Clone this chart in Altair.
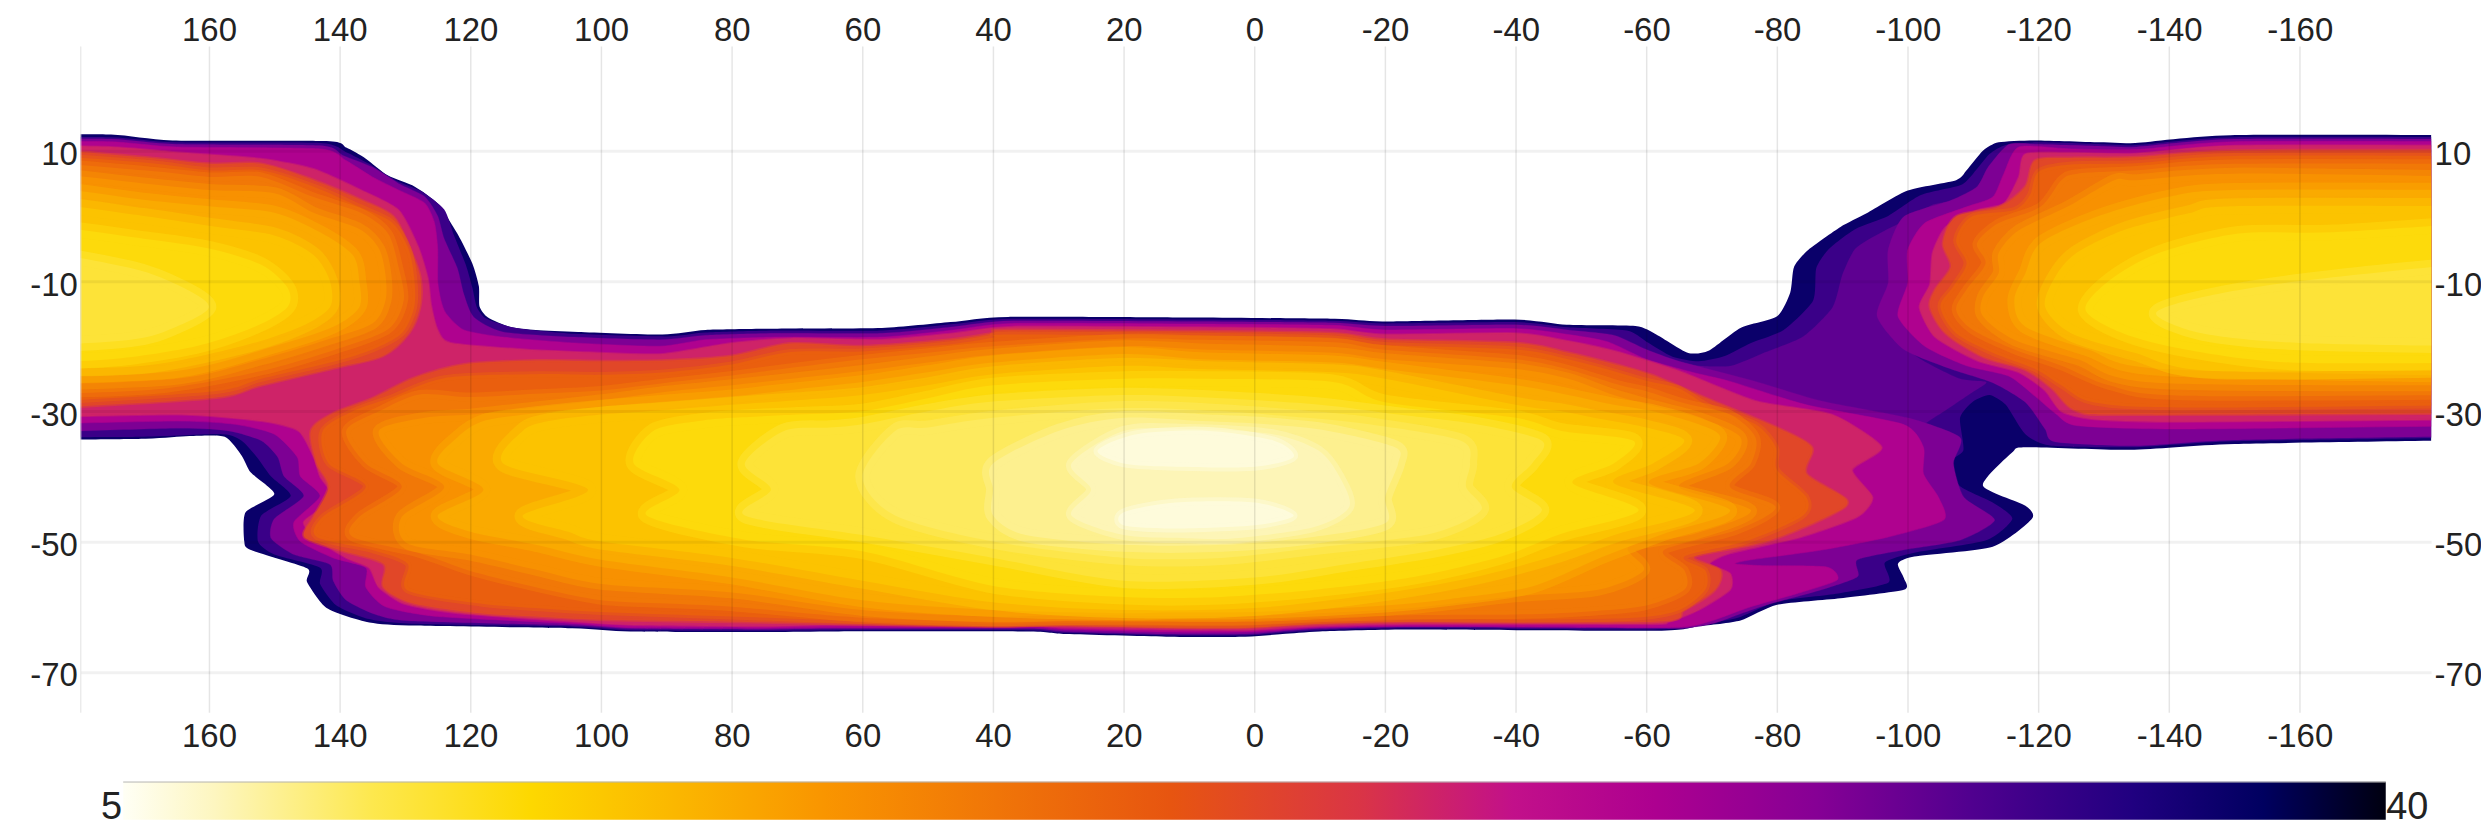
import altair as alt
import pandas as pd

lon_ticks = [160, 140, 120, 100, 80, 60, 40, 20, 0, -20, -40, -60, -80, -100, -120, -140, -160]
lat_ticks = [10, -10, -30, -50, -70]
colorbar_low = ["5"]
colorbar_high = ["40"]
scale_values = [5, 6.4, 8.85, 11.3, 15.85, 21.2, 24.1, 26.5, 28.7, 31.2, 33.6, 36.1, 38.1, 40]
scale_colors = ["#fffff5", "#fdf6c0", "#fde84e", "#fdd800", "#f99500", "#e75510", "#da3545",
                "#c2108a", "#ad0090", "#860095", "#50008f", "#200080", "#000060", "#000010"]

# iso-value outlines: (longitude, latitude) in drawing order
v375 = [(190,12.5),(175,12.5),(165.6,11.6),(142,11.5),(139,10.5),(136,8.8),(132.6,6.2),(128.5,4.5),(125,1.9),(122,-2.7),(119.7,-7.3),(118.7,-10.8),(118.6,-13.9),(117.3,-15.6),(114,-17),(110,-17.5),(103.5,-17.8),(90.6,-18.2),(84,-17.5),(73,-17.3),(57,-17.2),(46.5,-16.3),(37.7,-15.5),(8.6,-15.6),(-12.3,-15.8),(-19.6,-16.2),(-39.8,-15.9),(-47.8,-16.7),(-58.3,-16.9),(-61.5,-18.2),(-66.3,-21),(-69.5,-20.7),(-74.4,-17.2),(-80,-15.4),(-82,-11.8),(-82.6,-7.8),(-84.8,-5.2),(-89.7,-1.7),(-93.7,.4),(-100,3.9),(-107.4,5.5),(-109,7),(-111.5,10),(-113.9,11.3),(-119.5,11.6),(-130,11.3),(-134.8,11.2),(-149.4,12.4),(-190,12.4),
(-190,-34.4),(-150,-35),(-134,-35.9),(-118,-35.5),(-116,-36.3),(-111.5,-41.4),(-118,-44.5),(-119,-46.5),(-113,-50.8),(-101,-52.3),(-98.5,-53.4),(-99.4,-55.6),(-99.4,-57.4),(-89.7,-58.7),(-80,-59.7),(-74.4,-62.1),(-68,-63),(-61.5,-63.7),(-23.6,-63.5),(-10,-63.8),(-4.3,-64.2),(1.4,-64.6),(13.5,-64.6),(28.8,-64.2),(35,-63.8),(65,-63.8),(75.4,-63.9),(95.5,-63.8),(104.4,-63.3),(129.4,-62.9),(136,-62.3),(142,-60.2),(145,-56.2),(145,-54.1),(153.6,-51.3),(154.6,-50),(154.4,-45.5),(150,-42.7),(153.6,-39.4),(155,-36.8),(157.6,-33.9),(163,-33.8),(169.7,-34.2),(190,-34.4)]
v348 = [(190,12.1),(175,12.1),(165,11.3),(143,11.2),(139,9.8),(135.5,8),(131.5,5.5),(127.5,3.8),(124,1),(122.5,-3),(120.7,-7.5),(119.7,-11),(119,-14),(117.5,-15.8),(113,-17.2),(104,-18.1),(90,-18.5),(84,-17.9),(73,-17.6),(57,-17.6),(46,-16.6),(37,-15.8),(8.6,-15.9),(-12,-16.1),(-20,-16.5),(-40,-16.3),(-48,-17.1),(-57,-17.6),(-60,-19.3),(-64,-21.6),(-68,-22.3),(-72,-21.5),(-76,-19.5),(-81,-17.5),(-85.5,-13),(-86,-8),(-88,-5),(-92,-2),(-97,0),(-102,3.2),(-108,4.7),(-110,6.5),(-112.5,9.5),(-115,10.9),(-120,11.3),(-130,11),(-135,10.9),(-150,12.1),(-190,12.1),
(-190,-34),(-150,-34.6),(-135,-35.5),(-122,-35.3),(-118,-33.5),(-115,-29),(-112.5,-27.5),(-110,-28.5),(-108,-31),(-108.5,-36),(-106,-38),(-108,-41.5),(-113,-44),(-116,-46.5),(-112,-49.8),(-101,-51.7),(-96.5,-53.2),(-97,-56.3),(-89,-58),(-80,-59.2),(-74,-61.7),(-68,-62.7),(-61,-63.5),(-24,-63.3),(-10,-63.6),(-4,-64),(1.4,-64.4),(13.5,-64.4),(29,-64),(35,-63.6),(65,-63.6),(75,-63.7),(95,-63.6),(104,-63.1),(129,-62.6),(135.5,-61.9),(140.5,-59.8),(143,-56.5),(143,-54),(150,-52),(152.5,-50),(152,-46),(147.5,-43),(150.5,-40),(152.7,-37),(155,-34.5),(158,-33.5),(170,-33.9),(190,-34)]
v330 = [(-63,-22),(-68,-23),(-73,-23),(-78,-21),(-84,-18.5),(-88.5,-14),(-90,-9),(-92,-5),(-96,-2.5),(-100,-.5),(-104,1.8),(-108,2),(-104,-3),(-100,-8),(-97,-14),(-97,-18),(-102,-22),(-108,-25),(-112,-25.5),(-110,-27),(-104,-31),(-100,-33),(-90,-31),(-75,-26.5),(-66,-24)]
v316_a = [(190,11.8),(175,11.8),(165,11),(143,10.8),(139.5,9.3),(135,7.5),(131,5),(127,3),(125,0),(124,-3.5),(122,-8),(121,-12),(119.5,-15.5),(115,-17.8),(104,-18.6),(91,-19),(84,-18.3),(73,-18),(57,-18),(46,-17),(37,-16.1),(8.6,-16.2),(-12,-16.4),(-20,-16.9),(-40,-16.7),(-48,-17.5),(-55,-18.3),(-60,-20.5),(-65,-22.3),(-76.7,-25.4),(-86.8,-28.4),(-100,-31),(-108,-34),(-107,-38),(-108.6,-43.2),(-113.3,-46.7),(-108,-49.8),(-99.3,-51.3),(-92.3,-52.8),(-92.3,-55.4),(-86.8,-57.4),(-77.5,-60),(-70.5,-62.5),(-65.8,-63.3),(-61,-63.3),(-24,-63.1),(-10,-63.4),(-4,-63.8),(1.4,-64.2),(13.5,-64.2),(29,-63.8),(35,-63.4),(65,-63.4),(75,-63.5),(95,-63.4),(104,-62.9),(129,-62.2),(134.5,-61.2),(139,-59),(141,-56),(141.5,-53.5),(147,-52),(150.5,-49.5),(150,-46.5),(145.5,-43),(148.5,-40),(149.5,-37),(152,-34.5),(157,-33),(165,-32.6),(190,-33.3)]
v316_b = [(-190,11.8),(-150,11.8),(-135,10.6),(-130,10.7),(-120,11),(-115.5,11),(-112.3,7.5),(-110.6,4.5),(-106.6,2.4),(-99.4,-.1),(-97,-5.2),(-97,-10.3),(-95.3,-15.4),(-99.4,-20.5),(-106.6,-23.5),(-113,-25.6),(-118,-28.6),(-121,-32.7),(-122.6,-34.7),(-135,-35.3),(-150,-34.4),(-190,-33.8)]
v285_a = [(190,11.4),(175,11.4),(165,10.6),(143,10.3),(139,8.5),(135,6),(131,4),(127,2),(125.5,-1),(125,-5),(125,-10),(124.5,-13),(123.7,-15),(121,-17.5),(115,-18.6),(104,-19.5),(91,-20),(84,-19),(73,-18.6),(57,-18.6),(46,-17.5),(37,-16.5),(8.6,-16.6),(-12,-16.8),(-20,-17.5),(-40,-17.3),(-48,-18.2),(-54,-19.3),(-60,-22),(-67,-24),(-72.8,-25.4),(-84.5,-29),(-99.3,-32),(-102.4,-35.5),(-102.4,-39.6),(-104.7,-43.2),(-105.5,-46.7),(-97,-49.3),(-86.8,-51.3),(-76,-52.8),(-73.6,-53.4),(-78,-53.7),(-87.6,-53.9),(-89.2,-55.9),(-83,-58),(-76,-60),(-70.5,-62),(-66.6,-63),(-60,-63.2),(-24,-63),(-10,-63.2),(-4,-63.6),(1.4,-63.9),(13.5,-63.9),(29,-63.5),(35,-63.2),(65,-63.2),(75,-63.3),(95,-63.2),(104,-62.6),(125,-61.5),(133,-60),(136,-57),(136,-54),(141,-52.5),(146,-50),(147,-47),(143,-43),(146,-40),(146.5,-37),(150,-33.5),(156,-32),(165,-31.5),(190,-32)]
v285_b = [(-190,11.4),(-150,11.4),(-135,10.2),(-125,10.3),(-117,10.6),(-114.7,6.5),(-113,2.9),(-109,1.4),(-102.6,-1.1),(-100,-5.2),(-100,-10.3),(-98.5,-15.4),(-102.6,-20),(-109,-23),(-115.5,-24.6),(-119.5,-27.7),(-122.7,-30.4),(-126,-32.2),(-142,-32.7),(-190,-32.2)]
v253_a = [(190,10.8),(175,10.6),(165,9.8),(152,8.8),(144,7.2),(136.6,3.9),(131,.9),(128,-4.7),(126.5,-9.6),(126,-13.7),(125,-17.5),(123,-19.5),(111.6,-20.5),(100,-21),(90.6,-21.2),(80,-19.5),(71,-18.8),(57,-19),(46,-18),(37,-17),(8.6,-17.1),(-12,-17.4),(-20,-18.2),(-40,-18),(-48,-19.2),(-55,-20.7),(-65,-23.8),(-76.7,-28.4),(-88.4,-30.5),(-96,-35.5),(-91.5,-39),(-94.6,-43.2),(-92.3,-46.2),(-83.7,-49.3),(-72.8,-51.8),(-69.7,-53.4),(-72.8,-54.9),(-72.8,-57.4),(-68,-60.5),(-63.5,-62.3),(-60,-62.7),(-24,-62.7),(-10,-63),(-4,-63.3),(1.4,-63.6),(13.5,-63.5),(29,-63.2),(35,-62.8),(50,-62.9),(65,-62.8),(75,-63),(95,-62.8),(104,-62.3),(122,-61),(130,-59.6),(134,-57),(135.5,-54),(139,-52.5),(143,-50),(145.5,-47),(141,-43.5),(143,-40),(144,-37),(146.3,-33),(152,-31.5),(165,-30.5),(190,-31)]
v253_b = [(-190,10.8),(-150,10.8),(-135,9.6),(-125,9.7),(-118,9.5),(-117,6),(-114.7,1.9),(-110.6,.9),(-105.8,-1.7),(-103.8,-5.7),(-103.4,-10.5),(-101.8,-14),(-104.2,-18.6),(-110.6,-22.2),(-117,-24),(-121,-26.8),(-123.5,-30),(-128.4,-31.2),(-142,-31.6),(-190,-31.2)]
v225_l = [(190,10.6),(170,9),(160,8),(152,8),(144,5.5),(136.6,2.4),(131.8,-.1),(129.4,-4.7),(127.7,-9.3),(127.7,-13.9),(129.4,-18),(133.4,-21.5),(140.6,-23.3),(152,-26),(160,-28),(190,-29.7)]
v225_c = [(144.4,-33),(141,-30.3),(135,-28),(128.7,-24.9),(121,-22.8),(110,-22.2),(100,-22.3),(90,-22.2),(80,-21.5),(71,-19.6),(60,-20),(46.5,-19),(40,-18),(37.7,-17.5),(8.6,-17.7),(-12,-18),(-20,-19),(-40,-19.5),(-48,-21),(-56,-23),(-61,-24.5),(-68,-27.5),(-75,-30.4),(-80,-32.5),(-85.3,-35.5),(-84.5,-39.6),(-90.7,-43.7),(-87.6,-46.2),(-78.3,-50),(-67.4,-52.3),(-71.3,-54.4),(-70.5,-57.4),(-65.8,-60.5),(-61.2,-62.3),(-24,-62.3),(-10,-62.6),(-4,-62.9),(1.4,-63.2),(13.5,-63.1),(29,-62.8),(40,-63),(60,-62.7),(80,-62.3),(100,-62),(110,-61.5),(118.5,-61),(128.7,-59.5),(133.3,-57),(133.3,-53.4),(140,-51.3),(145.4,-49.3),(144,-46.2),(141.7,-41.6),(143.5,-38)]
v225_r = [(-190,10.1),(-150,10),(-135,9),(-125,8.9),(-119.5,8.5),(-118,4.5),(-114,1.4),(-107.4,-.1),(-105.4,-4.2),(-106.6,-7.8),(-104.2,-11.3),(-103.4,-14),(-105.8,-18),(-111.5,-21.6),(-118,-23.6),(-122,-26.4),(-126,-30),(-135,-30.5),(-190,-30.3)]
v204_l = [(190,9.5),(170,8.2),(160,7),(152,7),(144,4.5),(137,1.4),(132,-1),(129.5,-5),(128.6,-9.5),(128.6,-14),(130.5,-18),(135,-20.5),(141,-22.4),(152,-25),(160,-27),(190,-28.7)]
v204_c = [(142.6,-33),(138,-30),(132.4,-28),(124,-24.9),(110,-24.3),(100,-24.4),(90,-24),(80,-22.8),(71,-20.9),(60,-20.8),(46.5,-19.7),(40,-18.7),(37.7,-18.2),(8.6,-18.4),(-12,-18.8),(-20,-19.8),(-40,-20.5),(-48,-22),(-53.4,-23.4),(-60,-25.3),(-65,-26.5),(-70,-29.5),(-76.7,-32),(-79.8,-35.5),(-80,-39),(-84.5,-43.2),(-83.7,-46.2),(-75,-50),(-65.8,-52.3),(-69,-54.4),(-69,-57.4),(-65,-60.5),(-58,-61.7),(-40,-62),(-24,-61.9),(-10,-62.2),(1.4,-62.8),(13.5,-62.8),(29,-62.5),(40,-62.7),(60,-62.2),(80,-61.5),(100,-60.8),(110,-60.2),(118.5,-59.5),(129.6,-57.5),(129.6,-53.4),(135,-51.3),(143.5,-49.3),(142.6,-46.2),(136,-41.6),(141.7,-38)]
v204_r = [(-190,9.2),(-150,9.2),(-135,8.1),(-125,7.9),(-120,6.8),(-118.7,3.2),(-116.3,.9),(-109.8,-.1),(-107.4,-3.7),(-109,-7.3),(-107,-10.8),(-105,-13.9),(-107.4,-18),(-113,-21),(-119.5,-23.5),(-123.5,-26),(-128.4,-28.6),(-142,-29.4),(-190,-29)]
v183_l = [(190,8.5),(170,7),(160,6),(152,6),(144,2.9),(136.6,.4),(132.6,-2.7),(131,-7.8),(130.2,-12.9),(132.6,-17.4),(140.6,-20.5),(152,-23.8),(168,-26.6),(190,-27.4)]
v183_c = [(139,-33),(134,-30),(127.8,-27.4),(120,-27.8),(110,-27.3),(100,-26.8),(90,-25.6),(80,-24.5),(70,-23.2),(60,-22),(50,-21),(40,-20),(20,-18.8),(8.6,-19),(-12,-19.4),(-19.6,-20.5),(-40,-22),(-47.8,-23.5),(-56,-26),(-60,-26.9),(-66,-28.8),(-72.8,-30.5),(-76.7,-34),(-76,-38),(-72.8,-41.6),(-79.8,-44.7),(-73.6,-48.3),(-62.7,-51.3),(-65.8,-54.4),(-65.8,-57.4),(-59.6,-59.9),(-50,-60.8),(-40,-61.2),(-24,-61.3),(-10,-61.7),(1.4,-62.2),(13.5,-62.2),(29,-62.1),(40,-62.3),(60,-61.7),(80,-60),(90,-59.5),(100,-59),(110,-57),(120,-54.5),(127.8,-51.8),(138,-49.3),(137,-46.2),(130.5,-41.6),(136,-38)]
v183_r = [(-190,8),(-150,8),(-135,7),(-126,6.5),(-123.5,5.5),(-120.3,1.4),(-113.9,-1.1),(-110.6,-4.2),(-111.9,-7.3),(-109,-11.3),(-107.4,-14.4),(-109.8,-17.4),(-116.3,-20.5),(-123.5,-23),(-130.8,-26),(-142,-27.6),(-190,-27.5)]
v162_l = [(190,7),(170,5),(160,4),(150,3.5),(144,.5),(137,-2),(134,-5),(133,-9),(133,-13),(135,-16.5),(142,-19),(152,-22),(165,-25),(190,-26)]
v162_c = [(134,-33),(127,-31),(120,-30.5),(110,-29.4),(100,-28.3),(90,-27),(80,-26),(70,-24.9),(60,-23.8),(50,-22.5),(40,-21.3),(20,-20),(8,-20.5),(-12,-21),(-20,-22),(-40,-23.5),(-48,-25),(-55,-27.5),(-60,-28.9),(-68,-31),(-74.4,-34),(-72.5,-38),(-65,-41.6),(-76,-45.2),(-67.4,-48.8),(-57.3,-50.8),(-59.6,-54.4),(-52.6,-57.4),(-40,-58.4),(-24,-60.2),(-10,-61),(1,-61.4),(13.5,-61.4),(29,-61.3),(40,-61.5),(60,-60.5),(80,-57.8),(100,-56.5),(110,-54.3),(120,-52),(129.6,-50.3),(130.5,-46.2),(124,-41.6),(130.5,-38)]
v162_r = [(-190,6),(-150,6.5),(-135,5.5),(-131.6,5.5),(-124.4,1.4),(-117,-2.2),(-113.9,-5.7),(-113.9,-8.8),(-111.5,-12.4),(-111.5,-15.4),(-116.3,-19),(-126,-22),(-138,-25.6),(-190,-26)]
v145_l = [(190,5),(170,2.5),(160,1.5),(150,.5),(143,-2.5),(138,-6),(137,-10),(137,-14),(141,-17),(150,-20),(165,-23.8),(190,-24.8)]
v145_c = [(125,-38),(122,-34),(118,-31.5),(110,-30.3),(100,-29.3),(90,-28.5),(80,-27.7),(70,-26.6),(60,-25.5),(50,-24),(40,-22.5),(20,-21.2),(8,-22),(-12,-22.5),(-20,-23.5),(-40,-26),(-48,-27.5),(-55,-29),(-61,-30),(-68,-32),(-71.3,-34),(-68,-38),(-60.4,-41),(-72.8,-45.2),(-62.7,-48.8),(-53.4,-52.3),(-42.5,-56.9),(-30,-58.8),(-20,-59.8),(0,-60.8),(13.5,-60.9),(20,-61),(40,-60.5),(60,-59),(80,-55.5),(100,-52.8),(110,-50.5),(120,-48.5),(125,-46),(118,-42)]
v145_r = [(-190,4),(-150,4),(-139.7,2.9),(-129,-.1),(-120.3,-4.2),(-118,-8.8),(-116.3,-12.9),(-118,-17),(-127.6,-20.5),(-139,-23.5),(-190,-24.6)]
v127_l = [(190,2.5),(170,0),(160,-1.5),(150,-3),(144,-6),(141.5,-10),(141.5,-14),(146,-17),(155,-20),(170,-23),(190,-23.5)]
v127_c = [(115,-38),(112,-33),(108,-31.5),(100,-30.5),(90,-29.8),(80,-29),(70,-28.3),(60,-27.5),(50,-26),(40,-24.3),(20,-23),(8,-23.5),(-12,-24),(-20,-25),(-40,-29),(-47,-30),(-52,-31),(-60,-32.5),(-65.8,-34.5),(-61,-38),(-55,-41),(-67.4,-45.2),(-55.7,-48.8),(-45.6,-52.3),(-34,-55.4),(-20,-57.9),(0,-60.2),(20,-60.5),(40,-59.3),(60,-56),(80,-52.5),(100,-50),(105,-48.5),(112,-46),(102,-42)]
v127_r = [(-190,1.5),(-150,1.5),(-143,.4),(-133,-2.2),(-125.8,-5.7),(-122.6,-9.3),(-121,-13.9),(-125,-18),(-134.7,-21),(-146.8,-23.8),(-190,-23.5)]
v110_l = [(190,-1),(170,-3.5),(160,-5),(152,-7.5),(148,-11),(148,-14),(153,-17),(162,-20),(175,-22),(190,-22.5)]
v110_c = [(95,-38),(92,-33),(85,-31.5),(80,-31),(70,-30.5),(60,-30),(50,-28),(40,-26),(20,-25),(8,-25),(-12,-25.5),(-20,-28.6),(-40,-31),(-47,-33),(-58,-34.5),(-55,-38),(-48.7,-41),(-58.8,-45.2),(-47,-48.8),(-37.8,-52.3),(-24.6,-55.4),(-10,-57.3),(5,-58.5),(20,-58.5),(40,-56.8),(60,-51.5),(78,-49.7),(93,-46),(88,-42)]
v110_r = [(-190,-1),(-165,-2.5),(-150.6,-2.7),(-138.4,-5.7),(-131,-9.8),(-127.2,-14.4),(-132.9,-18),(-142.5,-20.5),(-158.6,-22.5),(-190,-22.5)]
v095_l = [(190,-5),(172,-8),(164,-11),(160,-14),(165,-17),(172,-19),(190,-20)]
v095_c = [(78,-38),(72,-33),(65,-32.5),(60,-32),(50,-30),(40,-28.5),(20,-27.5),(5,-28),(-10,-29),(-22,-30.5),(-34,-32),(-44,-34.5),(-42.5,-38),(-39.4,-41.6),(-44,-45.2),(-37.8,-48.8),(-27.7,-51.3),(-14.5,-53.4),(0,-55.5),(20,-56),(40,-52.5),(60,-49),(78,-46),(74,-42)]
v095_r = [(-190,-7),(-160,-10),(-145,-12.5),(-138,-15),(-145,-18),(-160,-19.5),(-190,-20)]
v085 = [(60,-40),(55,-33),(50,-32.5),(40,-31),(20,-29.5),(5,-30),(-8,-31),(-17.6,-32),(-31.6,-34.5),(-33,-38),(-32.4,-41.6),(-34.7,-45.2),(-27,-48.8),(-10.6,-50.8),(5,-52.5),(20,-52.5),(40,-50),(55,-46)]
v075 = [(40,-38),(30,-33),(20,-31),(8,-31.5),(-2,-32),(-11.4,-33),(-21.5,-35.5),(-22,-38),(-20,-43.2),(-20,-47.2),(-9,-49.3),(5,-50.5),(20,-50.5),(35,-49),(40,-46),(40,-42)]
v066 = [(28,-38),(20,-33),(10,-32.7),(-2.8,-33.5),(-9.8,-36),(-13,-40),(-14.5,-44.7),(-9,-47.8),(3,-49.5),(10,-49.5),(20,-49),(28,-46),(25,-42)]
v057_a = [(24,-36),(18,-33.5),(7,-33),(-3,-34.5),(-6,-37),(0,-38.5),(12,-38.5),(20,-38)]
v057_b = [(20,-45.5),(12,-44),(0,-44),(-6,-46),(0,-47.5),(12,-48),(20,-47.5)]

outer_rings = [
    (37.5, v375), (34.75, v348), (33.0, v330), (31.6, v316_a), (31.6, v316_b), (28.45, v285_a), (28.45, v285_b),
    (25.3, v253_a), (25.3, v253_b),
]
inner_rings = [
    (22.5, v225_l), (22.5, v225_c), (22.5, v225_r),
    (20.4, v204_l), (20.4, v204_c), (20.4, v204_r), (18.3, v183_l), (18.3, v183_c), (18.3, v183_r),
    (16.2, v162_l), (16.2, v162_c), (16.2, v162_r), (14.45, v145_l), (14.45, v145_c), (14.45, v145_r),
    (12.7, v127_l), (12.7, v127_c), (12.7, v127_r), (10.95, v110_l), (10.95, v110_c), (10.95, v110_r),
    (9.55, v095_l), (9.55, v095_c), (9.55, v095_r), (8.5, v085), (7.45, v075), (6.6, v066),
    (5.7, v057_a), (5.7, v057_b),
]


def with_offscreen_corners(points):
    """Where an outline leaves the plot past the map edge, carry it straight on so the curve stays flat there."""
    out = []
    for i, (lon, lat) in enumerate(points):
        out.append((lon, lat))
        next_lon, next_lat = points[(i + 1) % len(points)]
        if abs(lon) == 190 and next_lon == lon:
            side = 1 if lon > 0 else -1
            out += [(side * 210, lat), (side * 210, next_lat)]
    return out


def table(rings):
    rows = []
    for ring_id, (level, points) in enumerate(rings):
        for step, (lon, lat) in enumerate(with_offscreen_corners(points)):
            rows.append({"ring": ring_id, "step": step, "lon": lon, "lat": lat, "level": level})
    return pd.DataFrame(rows)


FONT = "Liberation Sans"
INK = "#222222"
x_scale = alt.Scale(domain=[179.7, -180.1], nice=False, zero=False)
y_scale = alt.Scale(domain=[-76.2, 26.1], nice=False, zero=False)
color_scale = alt.Scale(domain=scale_values, range=scale_colors, interpolate="rgb", clamp=True)
soft_edge = alt.Scale(domain=[5.7, 6.6, 7.45, 12.7, 16.2, 20.4, 22.5, 25.3, 28.45, 34.75, 37.5],
                      range=[8, 10, 14, 16, 12, 6, 3, 2, 1, 0, 0])
label_style = dict(labelFont=FONT, labelFontSize=33, labelColor=INK, ticks=False, labelFlush=False,
                   labelOverlap=False, title=None, labelExpr="'' + datum.value", zindex=1)
x_plain = alt.X("lon:Q", scale=x_scale, axis=None)
y_plain = alt.Y("lat:Q", scale=y_scale, axis=None)
fill_color = alt.Color("level:Q", scale=color_scale, legend=None)
edge_color = alt.Stroke("level:Q", scale=color_scale, legend=None)
edge_width = alt.StrokeWidth("level:Q", scale=soft_edge, legend=None)

outer = alt.Chart(table(outer_rings)).mark_line(
    filled=True, interpolate="cardinal-closed", tension=0.35, clip=True, strokeOpacity=0.5
).encode(
    x=alt.X("lon:Q", scale=x_scale, axis=alt.Axis(
        orient="bottom", values=lon_ticks, grid=True, gridColor="#000000", gridOpacity=0.1, gridWidth=1.5,
        domain=False, labelPadding=8, labelBaseline="top", **label_style)),
    y=alt.Y("lat:Q", scale=y_scale, axis=alt.Axis(
        orient="left", values=lat_ticks, grid=True, gridColor="#000000", gridOpacity=0.055, gridWidth=3,
        domain=True, domainColor="#e2e2e2", domainWidth=1, labelPadding=3, labelOffset=4, **label_style)),
    color=fill_color, stroke=edge_color, strokeWidth=edge_width,
    detail="ring:N",
    order="step:Q",
)

inner = alt.Chart(table(inner_rings)).mark_line(
    filled=True, interpolate="cardinal-closed", tension=0.15, clip=True, strokeOpacity=0.5
).encode(
    x=x_plain, y=y_plain,
    color=fill_color, stroke=edge_color, strokeWidth=edge_width,
    detail="ring:N",
    order="step:Q",
)

tick_frame = pd.DataFrame({"lon": lon_ticks[:5], "lat": lat_ticks})
opposite_axes = alt.Chart(tick_frame).mark_point(opacity=0).encode(
    x=alt.X("lon:Q", scale=x_scale, axis=alt.Axis(
        orient="top", values=lon_ticks, grid=False, domain=False, labelPadding=-2, **label_style)),
    y=alt.Y("lat:Q", scale=y_scale, axis=alt.Axis(
        orient="right", values=lat_ticks, grid=False, domain=False, labelPadding=3, labelOffset=4, **label_style)),
)

bar_gradient = alt.LinearGradient(
    gradient="linear", x1=0, x2=1, y1=0, y2=0,
    stops=[alt.GradientStop(color=c, offset=(v - scale_values[0]) / (scale_values[-1] - scale_values[0]))
           for v, c in zip(scale_values, scale_colors)],
)
colorbar = alt.Chart(pd.DataFrame({"t": colorbar_low})).mark_rect(color=bar_gradient).encode(
    x=alt.value(43), x2=alt.value(2311.5), y=alt.value(737.7), y2=alt.value(775.7)
)
colorbar_edge = alt.Chart(pd.DataFrame({"t": colorbar_low})).mark_rule(color="#b5b5b5", strokeWidth=1).encode(
    x=alt.value(43), x2=alt.value(2311.5), y=alt.value(738)
)
low_label = alt.Chart(pd.DataFrame({"t": colorbar_low})).mark_text(
    font=FONT, fontSize=38, color=INK, align="right", baseline="alphabetic"
).encode(text="t:N", x=alt.value(42), y=alt.value(775))
high_label = alt.Chart(pd.DataFrame({"t": colorbar_high})).mark_text(
    font=FONT, fontSize=38, color=INK, align="left", baseline="alphabetic"
).encode(text="t:N", x=alt.value(2312), y=alt.value(775))

chart = alt.layer(outer, inner, opposite_axes, colorbar, colorbar_edge, low_label, high_label).resolve_axis(
    x="independent", y="independent"
).properties(
    width=2357, height=668,
    padding={"left": 72.5, "top": 37, "right": 50, "bottom": 116},
    autosize=alt.AutoSizeParams(type="none"),
    background="white",
).configure_view(stroke=None)

chart.save("out.html", embed_options={"renderer": "svg", "actions": False})
